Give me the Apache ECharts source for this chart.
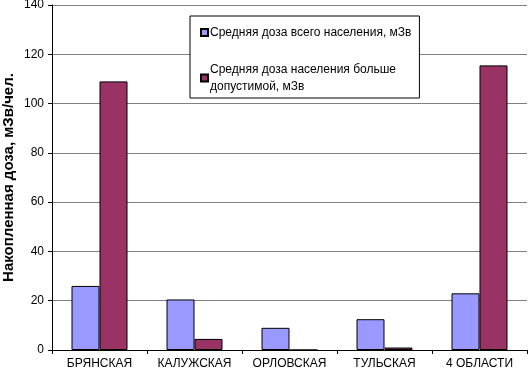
<!DOCTYPE html>
<html>
<head>
<meta charset="utf-8">
<script src="https://cdn.jsdelivr.net/npm/echarts@6/dist/echarts.min.js"></script>
<style>
  html, body { margin: 0; padding: 0; background: #fff; }
  #chart { width: 529px; height: 375px; }
</style>
</head>
<body>
<div id="chart"></div>
<script>
// Données
const regions = ['БРЯНСКАЯ', 'КАЛУЖСКАЯ', 'ОРЛОВСКАЯ', 'ТУЛЬСКАЯ', '4 ОБЛАСТИ'];
const doseAll = [26, 20.5, 9, 12.5, 23];
const doseOver = [109, 4.5, 0, 1, 115.5];
const seriesNames = ['Средняя доза всего населения, мЗв', 'Средняя доза населения больше допустимой, мЗв'];

const font = 'Liberation Sans, Arial, sans-serif';

const chart = echarts.init(document.getElementById('chart'));

chart.setOption({
    animation: false,
    textStyle: { fontFamily: font },
    grid: { left: 52, right: 2, top: 5, bottom: 25, outerBoundsMode: 'none', containLabel: false },
    legend: {
        orient: 'vertical',
        left: 190,
        top: 16,
        width: 235,
        padding: [8, 8, 3, 10],
        itemGap: 20,
        itemWidth: 7,
        itemHeight: 7,
        icon: 'rect',
        borderColor: '#000',
        borderWidth: 1,
        backgroundColor: '#fff',
        textStyle: { fontSize: 12, color: '#000', fontFamily: font, lineHeight: 17, padding: [0, 0, 0, -3] },
        formatter: name => name.replace('больше ', 'больше\n'),
        data: seriesNames
    },
    xAxis: {
        type: 'category',
        data: regions,
        axisLine: { lineStyle: { color: '#000', width: 1 } },
        axisTick: { show: true, length: 4, lineStyle: { color: '#000' } },
        axisLabel: { color: '#000', fontSize: 12, margin: 8, interval: 0 }
    },
    yAxis: {
        type: 'value',
        min: 0,
        max: 140,
        interval: 20,
        name: 'Накопленная доза, мЗв/чел.',
        nameLocation: 'middle',
        nameGap: 36,
        nameMoveOverlap: false,
        nameTextStyle: { fontSize: 15, fontWeight: 'bold', color: '#000' },
        axisLine: { show: true, lineStyle: { color: '#000', width: 1 } },
        axisTick: { show: true, length: 4, lineStyle: { color: '#000' } },
        axisLabel: { color: '#000', fontSize: 12, margin: 8 },
        splitLine: { lineStyle: { color: '#808080', width: 1 } }
    },
    series: [
        {
            name: seriesNames[0],
            type: 'bar',
            data: doseAll,
            barWidth: 28,
            barGap: '0%',
            itemStyle: { color: '#9999FF', borderColor: '#000', borderWidth: 1 }
        },
        {
            name: seriesNames[1],
            type: 'bar',
            data: doseOver,
            barWidth: 28,
            itemStyle: { color: '#993366', borderColor: '#000', borderWidth: 1 }
        }
    ]
});
</script>
</body>
</html>
